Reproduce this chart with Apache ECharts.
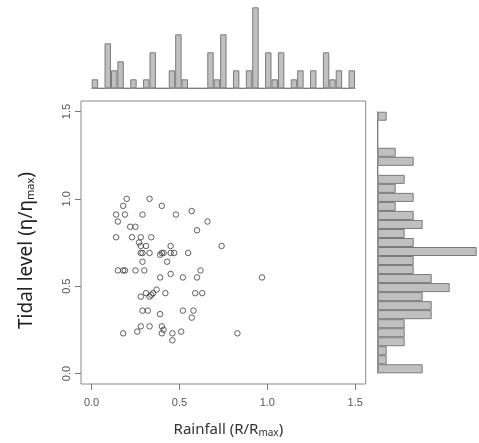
<!DOCTYPE html>
<html>
<head>
<meta charset="utf-8">
<script src="https://cdn.jsdelivr.net/npm/echarts@6/dist/echarts.min.js"></script>
<style>
  html, body { margin: 0; padding: 0; background: #fff; }
  #chart { width: 479px; height: 443px; }
</style>
</head>
<body>
<div id="chart"></div>
<script>
// scatter points [rainfall, tidal level]
const points = [
  [0.20, 1.00], [0.33, 1.00], [0.18, 0.96], [0.40, 0.96], [0.14, 0.91], [0.19, 0.91],
  [0.29, 0.91], [0.48, 0.91], [0.57, 0.93], [0.15, 0.87], [0.66, 0.87], [0.22, 0.84],
  [0.25, 0.84], [0.60, 0.82], [0.14, 0.78], [0.23, 0.78], [0.28, 0.78], [0.34, 0.78],
  [0.27, 0.75], [0.28, 0.73], [0.31, 0.73], [0.45, 0.73], [0.74, 0.73], [0.28, 0.69],
  [0.29, 0.69], [0.33, 0.69], [0.39, 0.68], [0.40, 0.69], [0.41, 0.69], [0.45, 0.69],
  [0.47, 0.69], [0.55, 0.69], [0.29, 0.64], [0.43, 0.64], [0.15, 0.59], [0.18, 0.59],
  [0.19, 0.59], [0.25, 0.59], [0.30, 0.59], [0.62, 0.59], [0.39, 0.55], [0.45, 0.57],
  [0.52, 0.55], [0.60, 0.55], [0.37, 0.48], [0.31, 0.46], [0.35, 0.46], [0.34, 0.45],
  [0.42, 0.46], [0.59, 0.46], [0.63, 0.46], [0.28, 0.44], [0.33, 0.44], [0.29, 0.36],
  [0.32, 0.36], [0.39, 0.34], [0.52, 0.36], [0.58, 0.36], [0.57, 0.32], [0.28, 0.27],
  [0.33, 0.27], [0.40, 0.27], [0.41, 0.25], [0.26, 0.24], [0.18, 0.23], [0.40, 0.23],
  [0.46, 0.23], [0.51, 0.24], [0.46, 0.19], [0.97, 0.55], [0.83, 0.23]
];

// histogram of rainfall (top), 41 bins across 0..1.5
const rainCounts = [1, 0, 5, 2, 3, 0, 1, 0, 1, 4, 0, 0, 2, 6, 1, 0, 0, 0, 4, 1, 6,
  0, 2, 0, 2, 9, 0, 4, 1, 4, 0, 1, 2, 0, 2, 0, 4, 1, 2, 0, 2];
const rainBins = rainCounts.map((c, i) => 'r' + i);

// histogram of tidal level (right), 29 bins from 0 upward
const tideCounts = [5, 1, 1, 3, 3, 3, 6, 6, 5, 8, 6, 4, 4, 11, 4, 3, 5, 4, 2, 4, 2, 3,
  0, 4, 2, 0, 0, 0, 1];
const tideBins = tideCounts.map((c, i) => 't' + i);

const tickValues = [0, 0.5, 1.0, 1.5];

const chart = echarts.init(document.getElementById('chart'), null, { renderer: 'canvas' });

const labelStyle = {
  color: '#555',
  fontFamily: 'Liberation Sans',
  fontSize: 11,
  customValues: tickValues,
  formatter: v => v.toFixed(1)
};
const tickStyle = {
  show: true,
  inside: false,
  length: 6,
  customValues: tickValues,
  lineStyle: { color: '#777' }
};
const barStyle = { color: '#c0c0c0', borderColor: '#7a7a7a', borderWidth: 1 };

const option = {
  animation: false,
  grid: [
    { left: 81, top: 101, width: 284.7, height: 283, show: true, borderColor: '#888', borderWidth: 1 },
    { left: 91.7, top: 7.3, width: 263.3, height: 81 },
    { left: 377.7, top: 111.7, width: 99, height: 261.6 }
  ],
  xAxis: [
    {
      gridIndex: 0, type: 'value', min: -0.06, max: 1.56,
      splitLine: { show: false }, axisLine: { show: false, onZero: false },
      axisTick: tickStyle,
      axisLabel: Object.assign({ margin: 13 }, labelStyle),
      name: '{a|Rainfall (R/R}{s|max}{a|)}',
      nameLocation: 'middle', nameGap: 38,
      nameTextStyle: {
        padding: [0, 0, 0, 10],
        rich: {
          a: { fontFamily: 'Noto Sans', fontSize: 15, color: '#333' },
          s: { fontFamily: 'Noto Sans', fontSize: 10, color: '#333', padding: [6, 0, 0, 0] }
        }
      }
    },
    { gridIndex: 1, type: 'category', data: rainBins, boundaryGap: true,
      axisLine: { show: true, lineStyle: { color: '#999' } },
      axisTick: { show: false }, axisLabel: { show: false } },
    { gridIndex: 2, type: 'value', min: 0, max: 11, show: false }
  ],
  yAxis: [
    {
      gridIndex: 0, type: 'value', min: -0.06, max: 1.56,
      splitLine: { show: false }, axisLine: { show: false, onZero: false },
      axisTick: tickStyle,
      axisLabel: Object.assign({ margin: 9, rotate: 90 }, labelStyle),
      name: '{a|Tidal level (η/η}{s|max}{a|)}',
      nameLocation: 'middle', nameGap: 45,
      nameTextStyle: {
        padding: [0, 16, 0, 0],
        rich: {
          a: { fontFamily: 'Noto Sans', fontSize: 19, color: '#222' },
          s: { fontFamily: 'Noto Sans', fontSize: 11, color: '#222', padding: [8, 0, 0, 0] }
        }
      }
    },
    { gridIndex: 1, type: 'value', min: 0, max: 9, show: false },
    { gridIndex: 2, type: 'category', data: tideBins, boundaryGap: true,
      axisLine: { show: true, lineStyle: { color: '#999' } },
      axisTick: { show: false }, axisLabel: { show: false } }
  ],
  series: [
    {
      type: 'scatter', xAxisIndex: 0, yAxisIndex: 0, data: points,
      symbol: 'circle', symbolSize: 5.5,
      itemStyle: { color: 'rgba(0,0,0,0)', borderColor: '#3a3a3a', borderWidth: 1 }
    },
    {
      type: 'bar', xAxisIndex: 1, yAxisIndex: 1, data: rainCounts,
      barCategoryGap: '0%', itemStyle: barStyle
    },
    {
      type: 'bar', xAxisIndex: 2, yAxisIndex: 2, data: tideCounts,
      barCategoryGap: '0%', itemStyle: barStyle
    }
  ]
};

chart.setOption(option);
</script>
</body>
</html>
